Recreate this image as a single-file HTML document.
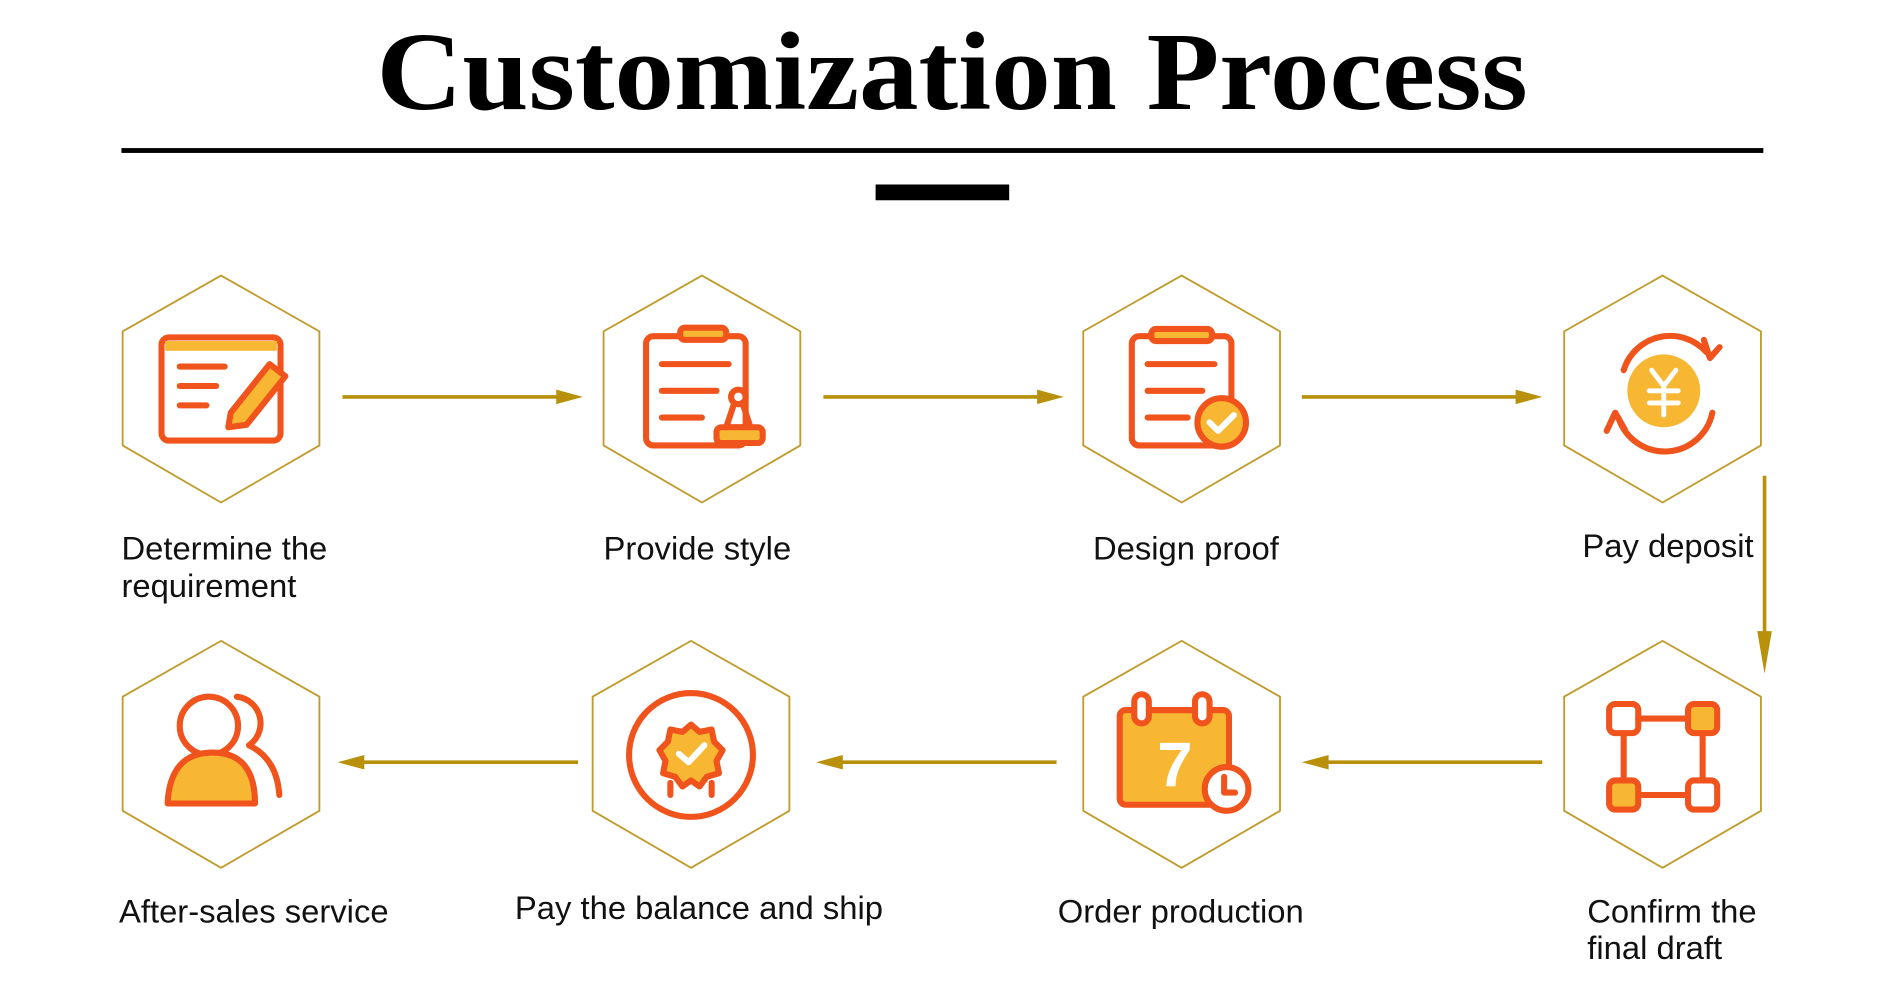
<!DOCTYPE html>
<html><head><meta charset="utf-8"><style>
html,body{margin:0;padding:0;background:#fff;overflow:hidden}
svg{display:block}
</style></head><body>
<svg width="1903" height="988" viewBox="0 0 1567 814" preserveAspectRatio="none" xmlns="http://www.w3.org/2000/svg">
<text x="310" y="90" font-family="Liberation Serif, serif" font-weight="bold" font-size="92" textLength="948" lengthAdjust="spacingAndGlyphs">Customization  Process</text>
<rect x="100" y="122" width="1352" height="4" fill="#000"/>
<rect x="721" y="152" width="110" height="13" fill="#000"/>

<g fill="none" stroke="#c09a2a" stroke-width="1.5">
<polygon points="182,227 263,273 263,367 182,414 101,367 101,273"/>
<polygon points="578,227 659,273 659,367 578,414 497,367 497,273"/>
<polygon points="973,227 1054,273 1054,367 973,414 892,367 892,273"/>
<polygon points="1369,227 1450,273 1450,367 1369,414 1288,367 1288,273"/>
<polygon points="182,528 263,574 263,668 182,715 101,668 101,574"/>
<polygon points="569,528 650,574 650,668 569,715 488,668 488,574"/>
<polygon points="973,528 1054,574 1054,668 973,715 892,668 892,574"/>
<polygon points="1369,528 1450,574 1450,668 1369,715 1288,668 1288,574"/>
</g>

<g stroke="#b8900a" stroke-width="3" fill="none">
<line x1="282" y1="327" x2="470" y2="327"/><path d="M458,321 L480,327 L458,333z" fill="#b8900a" stroke="none"/>
<line x1="678" y1="327" x2="866" y2="327"/><path d="M854,321 L876,327 L854,333z" fill="#b8900a" stroke="none"/>
<line x1="1072" y1="327" x2="1260" y2="327"/><path d="M1248,321 L1270,327 L1248,333z" fill="#b8900a" stroke="none"/>
<line x1="1453" y1="392" x2="1453" y2="540"/><path d="M1447,520 L1453,555 L1459,520z" fill="#b8900a" stroke="none"/>
<line x1="1270" y1="628" x2="1082" y2="628"/><path d="M1094,622 L1072,628 L1094,634z" fill="#b8900a" stroke="none"/>
<line x1="870" y1="628" x2="682" y2="628"/><path d="M694,622 L672,628 L694,634z" fill="#b8900a" stroke="none"/>
<line x1="476" y1="628" x2="288" y2="628"/><path d="M300,622 L278,628 L300,634z" fill="#b8900a" stroke="none"/>
</g>

<g stroke="#f0531c" stroke-width="5" fill="none" stroke-linecap="round" stroke-linejoin="round">
<rect x="133" y="278" width="98" height="85" rx="6"/>
<rect x="136" y="281" width="92" height="8" fill="#f7b733" stroke="none"/>
<line x1="148" y1="302" x2="185" y2="302"/><line x1="148" y1="318" x2="178" y2="318"/><line x1="148" y1="334" x2="170" y2="334"/>
<path d="M190,340 L222,300 L235,310 L203,350 L188,352 Z" fill="#f7b733"/>
<rect x="532" y="277" width="82" height="90" rx="6"/>
<rect x="560" y="270" width="38" height="10" rx="4" fill="#f7b733"/>
<line x1="545" y1="300" x2="600" y2="300"/><line x1="545" y1="322" x2="590" y2="322"/><line x1="545" y1="344" x2="578" y2="344"/>
<circle cx="608" cy="327" r="6" fill="#fff"/><path d="M604,334 L598,352 L618,352 L612,334"/>
<rect x="590" y="352" width="38" height="13" rx="4" fill="#f7b733"/>
<rect x="932" y="277" width="82" height="90" rx="6"/>
<rect x="948" y="271" width="50" height="10" rx="4" fill="#f7b733"/>
<line x1="945" y1="300" x2="1000" y2="300"/><line x1="945" y1="322" x2="990" y2="322"/><line x1="945" y1="344" x2="978" y2="344"/>
<circle cx="1006" cy="348" r="20" fill="#f7b733"/><path d="M996,348 L1003,355 L1016,342" stroke="#fff"/>
<circle cx="1370" cy="322" r="30" fill="#f7b733" stroke="none"/>
<path d="M1337,305 A40,40 0 0 1 1405,290"/><path d="M1403,280 L1408,295 L1416,286"/>
<path d="M1410,340 A40,40 0 0 1 1333,345"/><path d="M1323,355 L1330,340 L1338,354"/>
<path d="M1360,305 L1370,318 L1380,305 M1358,322 L1382,322 M1358,332 L1382,332 M1370,318 L1370,342" stroke="#fff" stroke-width="4"/>
<rect x="1325" y="580" width="24" height="24" rx="5"/><rect x="1390" y="580" width="24" height="24" rx="5" fill="#f7b733"/>
<rect x="1325" y="643" width="24" height="24" rx="5" fill="#f7b733"/><rect x="1390" y="643" width="24" height="24" rx="5"/>
<line x1="1349" y1="592" x2="1390" y2="592"/><line x1="1349" y1="655" x2="1390" y2="655"/>
<line x1="1337" y1="604" x2="1337" y2="643"/><line x1="1402" y1="604" x2="1402" y2="643"/>
<rect x="922" y="585" width="90" height="78" rx="5" fill="#f7b733"/>
<rect x="934" y="572" width="12" height="24" rx="6" fill="#fff"/><rect x="984" y="572" width="12" height="24" rx="6" fill="#fff"/>
<line x1="946" y1="585" x2="984" y2="585"/>
<text x="953" y="648" font-family="Liberation Sans, sans-serif" font-weight="bold" font-size="52" fill="#fff" stroke="none">7</text>
<circle cx="1010" cy="650" r="18" fill="#fff"/><path d="M1008,640 L1008,653 L1017,653"/>
<circle cx="569" cy="622" r="51"/>
<path d="M569,597 L576,603 L586,601 L588,611 L595,618 L590,627 L592,637 L582,640 L576,648 L569,643 L562,648 L556,640 L546,637 L548,627 L543,618 L550,611 L552,601 L562,603 Z" fill="#f7b733"/>
<path d="M559,621 L567,628 L580,614" stroke="#fff"/>
<path d="M552,645 L552,655 M586,645 L586,655"/>
<circle cx="172" cy="598" r="24"/>
<path d="M138,662 Q140,620 175,620 Q210,620 210,662 Z" fill="#f7b733"/>
<path d="M195,574 A22,22 0 0 1 205,614 Q228,625 230,655"/>
</g>

<g font-family="Liberation Sans, sans-serif" font-size="27" fill="#111">
<text x="100" y="461">Determine the</text>
<text x="100" y="492">requirement</text>
<text x="497" y="461">Provide style</text>
<text x="900" y="461">Design proof</text>
<text x="1303" y="459">Pay deposit</text>
<text x="98" y="760">After-sales service</text>
<text x="424" y="757">Pay the balance and ship</text>
<text x="871" y="760">Order production</text>
<text x="1307" y="760">Confirm the</text>
<text x="1307" y="790">final draft</text>
</g>
</svg>
</body></html>
